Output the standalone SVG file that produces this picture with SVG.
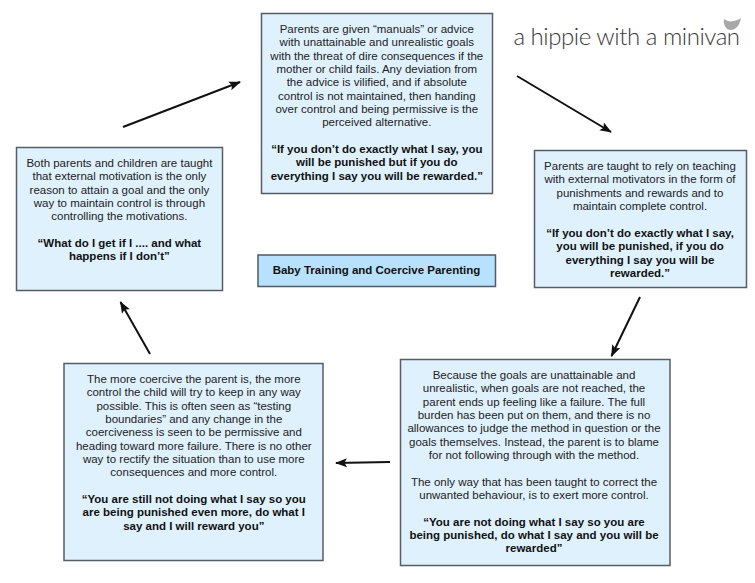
<svg xmlns="http://www.w3.org/2000/svg" width="755" height="583" viewBox="0 0 755 583">
<style>
.b{fill:#dff1fd;stroke:#555e66;stroke-width:1.500}
text{font-family:"Liberation Sans",Arial,sans-serif;font-size:11.500px;fill:#222;text-anchor:middle}
.s{font-weight:bold;fill:#111}
.c line{stroke:#111;stroke-width:2;marker-end:url(#a)}
</style>
<defs><marker id="a" markerUnits="userSpaceOnUse" markerWidth="12" markerHeight="10" refX="11" refY="5" orient="auto"><path d="M0 0.500L12 5L0 9.500L2.500 5Z" fill="#111"/></marker></defs>
<rect width="755" height="583" fill="#fff"/>
<g class="c" id="connectors">
<line x1="123" y1="127" x2="240" y2="82"/>
<line x1="517" y1="76" x2="611" y2="132"/>
<line x1="640" y1="297" x2="611.500" y2="356"/>
<line x1="390" y1="462" x2="336" y2="463"/>
<line x1="150" y1="354" x2="120.500" y2="302"/>
</g>
<g id="top"><rect class="b" x="261.500" y="13.500" width="231" height="180"/>
<text x="376.800" y="33">Parents are given “manuals” or advice</text>
<text x="376.800" y="46.400">with unattainable and unrealistic goals</text>
<text x="376.800" y="59.700">with the threat of dire consequences if the</text>
<text x="376.800" y="73">mother or child fails. Any deviation from</text>
<text x="376.800" y="86.400">the advice is vilified, and if absolute</text>
<text x="376.800" y="99.700">control is not maintained, then handing</text>
<text x="376.800" y="113">over control and being permissive is the</text>
<text x="376.800" y="126.400">perceived alternative.</text>
<text class="s" x="376.800" y="153">“If you don’t do exactly what I say, you</text>
<text class="s" x="376.800" y="166.400">will be punished but if you do</text>
<text class="s" x="376.800" y="179.700">everything I say you will be rewarded.”</text></g>
<g id="right"><rect class="b" x="534.500" y="150.500" width="212" height="137"/>
<text x="640" y="170">Parents are taught to rely on teaching</text>
<text x="640" y="183.400">with external motivators in the form of</text>
<text x="640" y="196.700">punishments and rewards and to</text>
<text x="640" y="210">maintain complete control.</text>
<text class="s" x="640" y="236.800">“If you don’t do exactly what I say,</text>
<text class="s" x="640" y="250.200">you will be punished, if you do</text>
<text class="s" x="640" y="263.500">everything I say you will be</text>
<text class="s" x="640" y="276.900">rewarded.”</text></g>
<g id="bottom-right"><rect class="b" x="400.500" y="359.500" width="269.500" height="206"/>
<text x="534" y="379">Because the goals are unattainable and</text>
<text x="534" y="392.400">unrealistic, when goals are not reached, the</text>
<text x="534" y="405.700">parent ends up feeling like a failure. The full</text>
<text x="534" y="419">burden has been put on them, and there is no</text>
<text x="534" y="432.400">allowances to judge the method in question or the</text>
<text x="534" y="445.700">goals themselves. Instead, the parent is to blame</text>
<text x="534" y="459">for not following through with the method.</text>
<text x="534" y="485.700">The only way that has been taught to correct the</text>
<text x="534" y="499">unwanted behaviour, is to exert more control.</text>
<text class="s" x="534" y="525.700">“You are not doing what I say so you are</text>
<text class="s" x="534" y="539">being punished, do what I say and you will be</text>
<text class="s" x="534" y="552.400">rewarded”</text></g>
<g id="bottom-left"><rect class="b" x="64" y="363.500" width="259" height="197"/>
<text x="193.800" y="383">The more coercive the parent is, the more</text>
<text x="193.800" y="396.400">control the child will try to keep in any way</text>
<text x="193.800" y="409.700">possible. This is often seen as “testing</text>
<text x="193.800" y="423">boundaries” and any change in the</text>
<text x="193.800" y="436.400">coerciveness is seen to be permissive and</text>
<text x="193.800" y="449.700">heading toward more failure. There is no other</text>
<text x="193.800" y="463">way to rectify the situation than to use more</text>
<text x="193.800" y="476.400">consequences and more control.</text>
<text class="s" x="193.800" y="503">“You are still not doing what I say so you</text>
<text class="s" x="193.800" y="516.400">are being punished even more, do what I</text>
<text class="s" x="193.800" y="529.700">say and I will reward you”</text></g>
<g id="left"><rect class="b" x="16.500" y="147.500" width="206" height="143"/>
<text x="119.400" y="167">Both parents and children are taught</text>
<text x="119.400" y="180.400">that external motivation is the only</text>
<text x="119.400" y="193.700">reason to attain a goal and the only</text>
<text x="119.400" y="207">way to maintain control is through</text>
<text x="119.400" y="220.400">controlling the motivations.</text>
<text class="s" x="119.400" y="247">“What do I get if I .... and what</text>
<text class="s" x="119.400" y="260.400">happens if I don’t”</text></g>
<g id="center"><rect x="258" y="255" width="237.500" height="31.500" style="fill:#b7e1fc;stroke:#4f5b66;stroke-width:1.500"/>
<text class="s" x="376.500" y="274">Baby Training and Coercive Parenting</text></g>
<g id="logo"><text x="626.500" y="45" style="font-family:'Lato','Noto Sans',sans-serif;font-weight:300;font-size:24px;letter-spacing:-0.450px;fill:#3a3a3a">a hippie with a minivan</text>
<path d="M724 19C727 21 730 22 734 21C739 20 741 18 741 18C740 23 738 29 731 30C726 30 723 25 724 19Z" fill="#a8a8a8"/></g>
</svg>
